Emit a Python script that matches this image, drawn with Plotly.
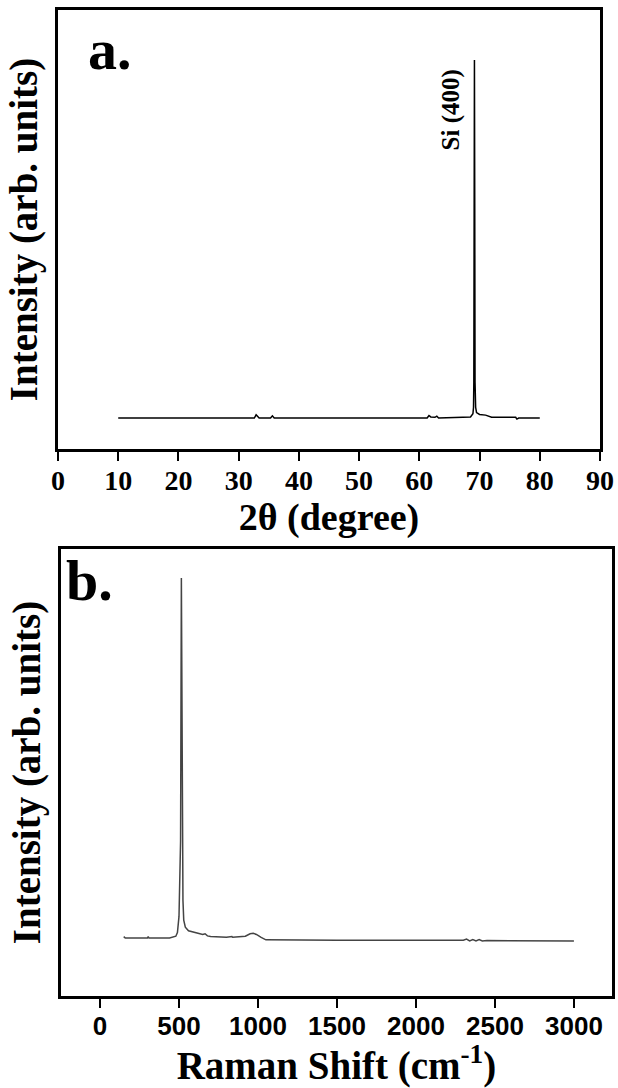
import plotly.graph_objects as go

# Panel a: XRD
xrd_2theta = [10, 20, 30, 32.6, 32.9, 33.1, 33.4, 35.3, 35.6, 35.9, 45, 55, 61.3, 61.6, 61.9, 62.6, 62.9, 63.2,
              68.5, 68.9, 69.0, 69.05, 69.1, 69.15, 69.2, 69.25, 69.35, 69.5, 70.0, 71.0, 71.5, 72.0, 76.0, 76.2, 76.5, 80]
xrd_int = [0.0, 0.0, 0.0, 0.0, 0.009, 0.004, 0.0, 0.0, 0.006, 0.0, 0.0, 0.0, 0.0, 0.007, 0.003, 0.002, 0.005, 0.0,
           0.003, 0.012, 0.03, 0.1, 0.7, 1.0, 0.6, 0.1, 0.03, 0.015, 0.01, 0.008, 0.005, 0.002, 0.002, -0.003, 0.0, 0.0]

# Panel b: Raman
raman_shift = [150, 160, 300, 305, 310, 440, 480, 490, 500, 505, 510, 515, 520, 525, 530, 540, 560, 600, 630, 650,
               665, 680, 700, 800, 835, 840, 920, 950, 970, 990, 1020, 1050, 1500, 2000, 2300, 2320, 2340, 2360,
               2380, 2400, 2420, 2450, 2500, 3000]
raman_int = [0.004, 0.0, 0.0, 0.004, 0.0, 0.0, 0.005, 0.015, 0.06, 0.21, 0.27, 1.0, 0.3, 0.105, 0.05, 0.03, 0.02,
             0.015, 0.013, 0.01, 0.012, 0.006, 0.004, 0.002, 0.004, 0.002, 0.005, 0.012, 0.013, 0.01, 0.002, -0.005,
             -0.006, -0.006, -0.006, -0.003, -0.008, -0.004, -0.008, -0.004, -0.008, -0.007, -0.007, -0.008]

xa_ticks = [0, 10, 20, 30, 40, 50, 60, 70, 80, 90]
xb_ticks = [0, 500, 1000, 1500, 2000, 2500, 3000]

W, H = 618, 1088
SERIF = "Liberation Serif, Times New Roman, serif"
SANS = "Liberation Sans, Arial, sans-serif"

fig = go.Figure()
fig.add_trace(go.Scatter(x=xrd_2theta, y=xrd_int, mode="lines", line=dict(color="black", width=1.5),
                         xaxis="x", yaxis="y", showlegend=False, hoverinfo="skip"))
fig.add_trace(go.Scatter(x=raman_shift, y=raman_int, mode="lines", line=dict(color="#444444", width=1.5),
                         xaxis="x2", yaxis="y2", showlegend=False, hoverinfo="skip"))

axis_common = dict(showline=True, linecolor="black", linewidth=3, mirror=True, showgrid=False, zeroline=False,
                   automargin=False)

fig.update_layout(
    template="none",
    width=W, height=H, autosize=False, margin=dict(l=0, r=0, t=0, b=0, pad=0),
    paper_bgcolor="white", plot_bgcolor="white",
    xaxis=dict(domain=[58 / W, 600 / W], range=[0, 90], anchor="y",
               tickmode="array", tickvals=xa_ticks, ticks="outside", ticklen=9, tickwidth=2, tickcolor="black",
               ticklabelstandoff=-5,
               tickfont=dict(family=SERIF, size=28, color="black", weight="bold"),
               title=dict(text="2θ (degree)", font=dict(family=SERIF, size=38, color="black", weight="bold"),
                          standoff=0),
               **axis_common),
    yaxis=dict(domain=[1 - 449 / H, 1 - 10 / H], range=[-0.0866, 1.1397], anchor="x",
               showticklabels=False, ticks="",
               title=dict(text="Intensity (arb. units)", font=dict(family=SERIF, size=39, color="black", weight="bold"),
                          standoff=6),
               **axis_common),
    xaxis2=dict(domain=[61 / W, 612 / W], range=[-247, 3241], anchor="y2",
                tickmode="array", tickvals=xb_ticks, ticks="outside", ticklen=9, tickwidth=2, tickcolor="black",
                ticklabelstandoff=-4,
                tickfont=dict(family=SANS, size=26, color="black", weight="bold"),
                title=dict(text="Raman Shift (cm<sup>-1</sup>)", font=dict(family=SERIF, size=39, color="black", weight="bold"),
                           standoff=1),
                **axis_common),
    yaxis2=dict(domain=[1 - 996 / H, 1 - 549 / H], range=[-0.161, 1.0806], anchor="x2",
                showticklabels=False, ticks="",
                title=dict(text="Intensity (arb. units)", font=dict(family=SERIF, size=39, color="black", weight="bold"),
                           standoff=6),
                **axis_common),
)

fig.add_annotation(text="a.", xref="paper", yref="paper", x=86 / W, y=1 - 50 / H, xanchor="left", yanchor="middle",
                   showarrow=False, font=dict(family=SERIF, size=58, color="black", weight="bold"))
fig.add_annotation(text="b.", xref="paper", yref="paper", x=64 / W, y=1 - 580 / H, xanchor="left", yanchor="middle",
                   showarrow=False, font=dict(family=SERIF, size=58, color="black", weight="bold"))
fig.add_annotation(text="Si (400)", xref="x", yref="y", x=65.3, y=0.86, textangle=-90, showarrow=False,
                   font=dict(family=SERIF, size=25, color="black", weight="bold"))

fig.write_html("out.html", config={"displayModeBar": False, "responsive": False},
               post_script="document.body.style.margin='0';document.body.style.overflow='hidden';")
